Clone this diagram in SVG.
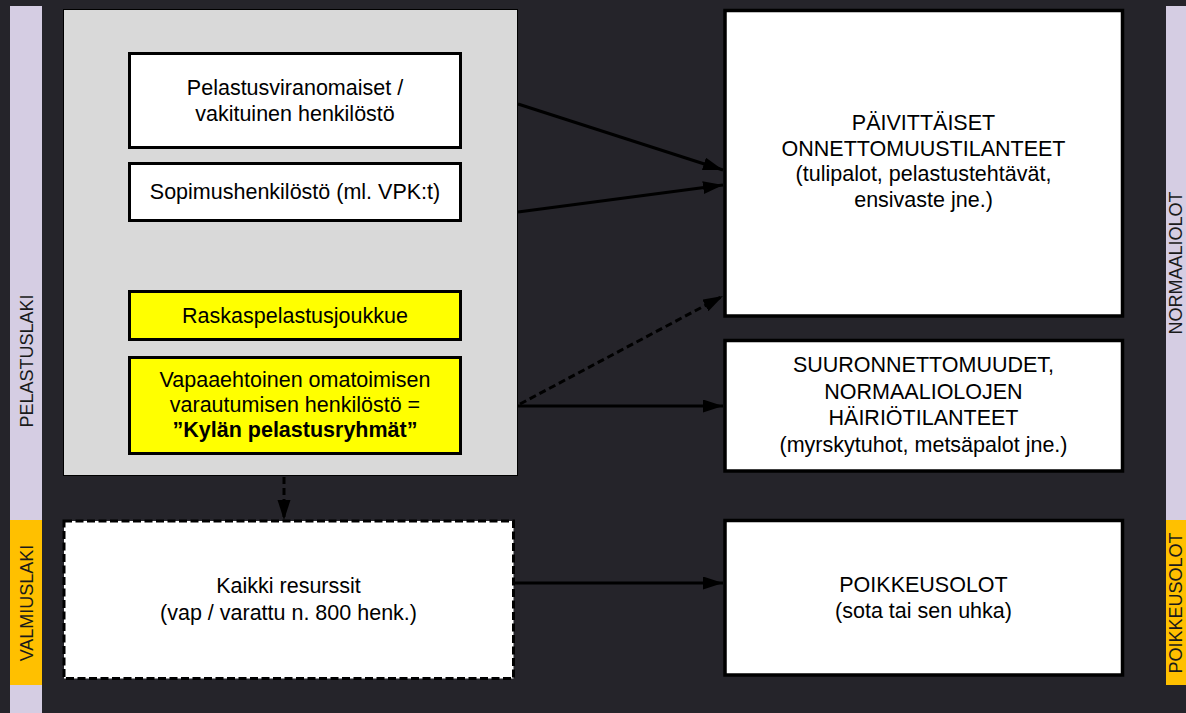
<svg xmlns="http://www.w3.org/2000/svg" width="1186" height="713" viewBox="0 0 1186 713">
<style>
  text { font-family: "Liberation Sans", Arial, sans-serif; fill: #000; text-anchor: middle; }
  .t { font-size: 21.5px; }
  .bar { font-size: 18px; fill: #1a1a1a; }
  .inner { stroke: #000; stroke-width: 3; }
  .outer { fill: #fff; stroke: #000; stroke-width: 3.5; }
  .conn { stroke: #000; stroke-width: 3; fill: none; }
  .dash { stroke-dasharray: 7 4; }
</style>
<defs>
  <marker id="ah" markerUnits="userSpaceOnUse" markerWidth="21" markerHeight="14" refX="20" refY="6.5" orient="auto">
    <path d="M0,0 L20,6.5 L0,13 Z" fill="#000"/>
  </marker>
</defs>
<rect x="0" y="0" width="1186" height="713" fill="#25242a"/>

<g id="bar-left">
  <rect x="10" y="6" width="32" height="707" fill="#d5cde3"/>
  <rect x="10" y="520" width="32" height="165" fill="#ffc000"/>
  <text class="bar" transform="translate(32.5,361) rotate(-90)">PELASTUSLAKI</text>
  <text class="bar" transform="translate(32.5,603) rotate(-90)">VALMIUSLAKI</text>
</g>
<g id="bar-right">
  <rect x="1166" y="6" width="32" height="514" fill="#d5cde3"/>
  <rect x="1166" y="520" width="32" height="165" fill="#ffc000"/>
  <text class="bar" transform="translate(1181.5,263) rotate(-90)">NORMAALIOLOT</text>
  <text class="bar" transform="translate(1181.5,603) rotate(-90)">POIKKEUSOLOT</text>
</g>

<g id="group-pelastus">
  <rect x="63.5" y="9.5" width="454" height="466" fill="#d9d9d9" stroke="#000" stroke-width="1"/>
</g>
<g id="node-viranomaiset">
  <rect class="inner" x="129.5" y="53.5" width="331" height="94" fill="#fff"/>
  <text class="t" x="295" y="95">Pelastusviranomaiset /</text>
  <text class="t" x="295" y="121">vakituinen henkilöstö</text>
</g>
<g id="node-sopimus">
  <rect class="inner" x="129.5" y="163.5" width="331" height="57" fill="#fff"/>
  <text class="t" x="295" y="198.5">Sopimushenkilöstö (ml. VPK:t)</text>
</g>
<g id="node-raskas">
  <rect class="inner" x="129.5" y="291.5" width="331" height="48" fill="#ffff00"/>
  <text class="t" x="295" y="322.5">Raskaspelastusjoukkue</text>
</g>
<g id="node-vapaa">
  <rect class="inner" x="129.5" y="357.5" width="331" height="96" fill="#ffff00"/>
  <text class="t" x="295" y="387">Vapaaehtoinen omatoimisen</text>
  <text class="t" x="295" y="412">varautumisen henkilöstö =</text>
  <text class="t" x="295" y="437" font-weight="bold">”Kylän pelastusryhmät”</text>
</g>
<g id="node-kaikki">
  <rect x="64" y="521" width="449.5" height="157.5" fill="#fff" stroke="#000" stroke-width="3" stroke-dasharray="8 3.5"/>
  <text class="t" x="288.5" y="593">Kaikki resurssit</text>
  <text class="t" x="288.5" y="620">(vap / varattu n. 800 henk.)</text>
</g>

<g id="node-paivittaiset">
  <rect class="outer" x="725" y="10.5" width="397.5" height="305.5"/>
  <text class="t" x="923.5" y="130">PÄIVITTÄISET</text>
  <text class="t" x="923.5" y="155.5">ONNETTOMUUSTILANTEET</text>
  <text class="t" x="923.5" y="181">(tulipalot, pelastustehtävät,</text>
  <text class="t" x="923.5" y="206.5">ensivaste jne.)</text>
</g>
<g id="node-suur">
  <rect class="outer" x="725" y="340.5" width="397.5" height="130.5"/>
  <text class="t" x="923.5" y="372">SUURONNETTOMUUDET,</text>
  <text class="t" x="923.5" y="398.5">NORMAALIOLOJEN</text>
  <text class="t" x="923.5" y="425">HÄIRIÖTILANTEET</text>
  <text class="t" x="923.5" y="451.5">(myrskytuhot, metsäpalot jne.)</text>
</g>
<g id="node-poikkeus">
  <rect class="outer" x="725" y="520.5" width="397.5" height="154.5"/>
  <text class="t" x="923.5" y="592">POIKKEUSOLOT</text>
  <text class="t" x="923.5" y="618">(sota tai sen uhka)</text>
</g>

<g id="connectors">
  <line class="conn" x1="518" y1="104" x2="723" y2="170" marker-end="url(#ah)"/>
  <line class="conn" x1="518" y1="212" x2="723" y2="185" marker-end="url(#ah)"/>
  <line class="conn dash" x1="520" y1="404" x2="723" y2="296" marker-end="url(#ah)"/>
  <line class="conn" x1="518" y1="406" x2="723" y2="406" marker-end="url(#ah)"/>
  <line class="conn dash" x1="284" y1="477" x2="284" y2="520" marker-end="url(#ah)"/>
  <line class="conn" x1="514" y1="583" x2="723" y2="583" marker-end="url(#ah)"/>
</g>
</svg>
